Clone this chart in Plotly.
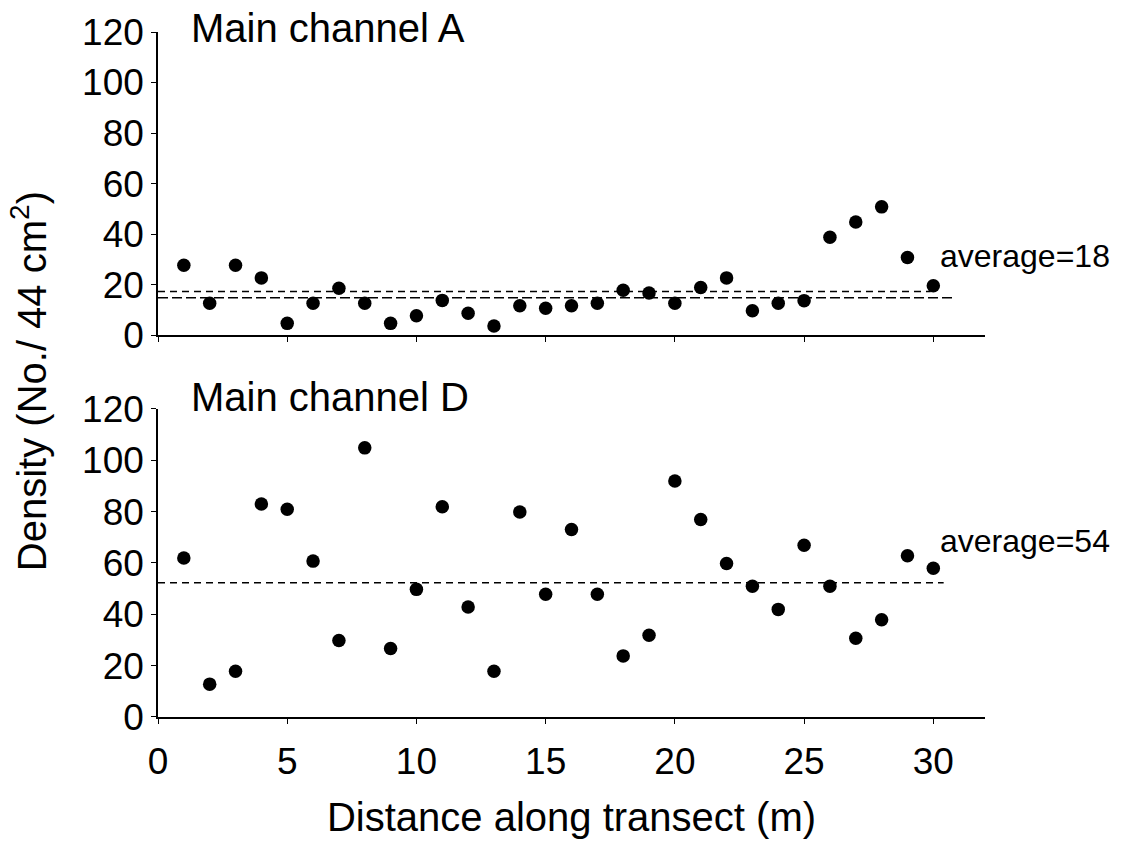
import plotly.graph_objects as go

# ---- data ----
distance = list(range(1, 31))
density_A = [27.7, 12.7, 27.7, 22.7, 4.7, 12.7, 18.6, 12.7, 4.7, 7.7,
             13.8, 8.7, 3.7, 11.7, 10.7, 11.7, 12.7, 17.8, 16.7, 12.7,
             18.9, 22.7, 9.7, 12.7, 13.7, 38.8, 44.8, 50.8, 30.8, 19.6]
density_D = [61.9, 12.8, 17.8, 82.9, 80.9, 60.7, 29.8, 104.8, 26.7, 49.7,
             81.9, 42.8, 17.8, 79.8, 47.8, 73.0, 47.8, 23.8, 31.8, 91.9,
             76.9, 59.8, 50.9, 41.9, 66.9, 50.9, 30.7, 37.9, 62.8, 57.9]
ref_A_upper = 17.3
ref_A_lower = 14.8
ref_D = 52.3
ref_A_upper_end = 29.9
ref_A_lower_end = 30.8
ref_D_end = 30.4
avg_labels = ["average=18", "average=54"]
panel_titles = ["Main channel A", "Main channel D"]
x_ticks = [0, 5, 10, 15, 20, 25, 30]
y_ticks = [0, 20, 40, 60, 80, 100, 120]

FONT = "Liberation Sans, Arial, sans-serif"

fig = go.Figure()

marker = dict(color="black", size=13.5, symbol="circle")
fig.add_trace(go.Scatter(x=distance, y=density_A, mode="markers", marker=marker,
                         xaxis="x", yaxis="y", showlegend=False))
fig.add_trace(go.Scatter(x=distance, y=density_D, mode="markers", marker=marker,
                         xaxis="x2", yaxis="y2", showlegend=False))

# reference (average) lines
fig.add_trace(go.Scatter(x=[0, ref_A_upper_end], y=[ref_A_upper, ref_A_upper], mode="lines",
                         line=dict(color="black", width=1.5, dash="7px,5px"),
                         xaxis="x", yaxis="y", showlegend=False, cliponaxis=False))
fig.add_trace(go.Scatter(x=[0, ref_A_lower_end], y=[ref_A_lower, ref_A_lower], mode="lines",
                         line=dict(color="black", width=1.5, dash="10px,4px"),
                         xaxis="x", yaxis="y", showlegend=False, cliponaxis=False))
fig.add_trace(go.Scatter(x=[0, ref_D_end], y=[ref_D, ref_D], mode="lines",
                         line=dict(color="black", width=1.5, dash="7px,5px"),
                         xaxis="x2", yaxis="y2", showlegend=False, cliponaxis=False))

axis_common = dict(showgrid=False, zeroline=False, showline=True, linecolor="black",
                   linewidth=1.5, ticks="outside", ticklen=5, tickwidth=1.2,
                   tickcolor="black")

fig.update_layout(
    width=1144, height=844,
    margin=dict(l=158, r=159, t=28, b=127),
    paper_bgcolor="white", plot_bgcolor="white",
    font=dict(family=FONT, color="black", size=37),
    xaxis=dict(axis_common, domain=[0, 1], range=[0, 32], tickvals=x_ticks,
               showticklabels=False, anchor="y"),
    yaxis=dict(axis_common, domain=[0.5573, 1.0], range=[0, 120], tickvals=y_ticks,
               tickfont=dict(size=37), anchor="x"),
    xaxis2=dict(axis_common, domain=[0, 1], range=[0, 32], tickvals=x_ticks,
                tickfont=dict(size=37), anchor="y2", ticklabelstandoff=6,
                title=dict(text="Distance along transect (m)", font=dict(size=40), standoff=22)),
    yaxis2=dict(axis_common, domain=[0, 0.4499], range=[0, 120], tickvals=y_ticks,
                tickfont=dict(size=37), anchor="x2"),
)

annotations = [
    dict(text=panel_titles[0], xref="paper", yref="paper", x=0.038, y=1.0,
         xanchor="left", yanchor="middle", showarrow=False, font=dict(size=40), yshift=4),
    dict(text=panel_titles[1], xref="paper", yref="paper", x=0.038, y=0.4499,
         xanchor="left", yanchor="middle", showarrow=False, font=dict(size=40), yshift=12),
    dict(text=avg_labels[0], xref="x", yref="y", x=30.2, y=31.5,
         xanchor="left", yanchor="middle", showarrow=False, font=dict(size=32)),
    dict(text=avg_labels[1], xref="x2", yref="y2", x=30.2, y=68.6,
         xanchor="left", yanchor="middle", showarrow=False, font=dict(size=32)),
    dict(text="Density (No./ 44 cm<sup>2</sup>)", xref="paper", yref="paper",
         x=-0.155, y=0.49, xanchor="center", yanchor="middle", textangle=-90,
         showarrow=False, font=dict(size=40)),
]
fig.update_layout(annotations=annotations)

fig.write_html("out.html")
